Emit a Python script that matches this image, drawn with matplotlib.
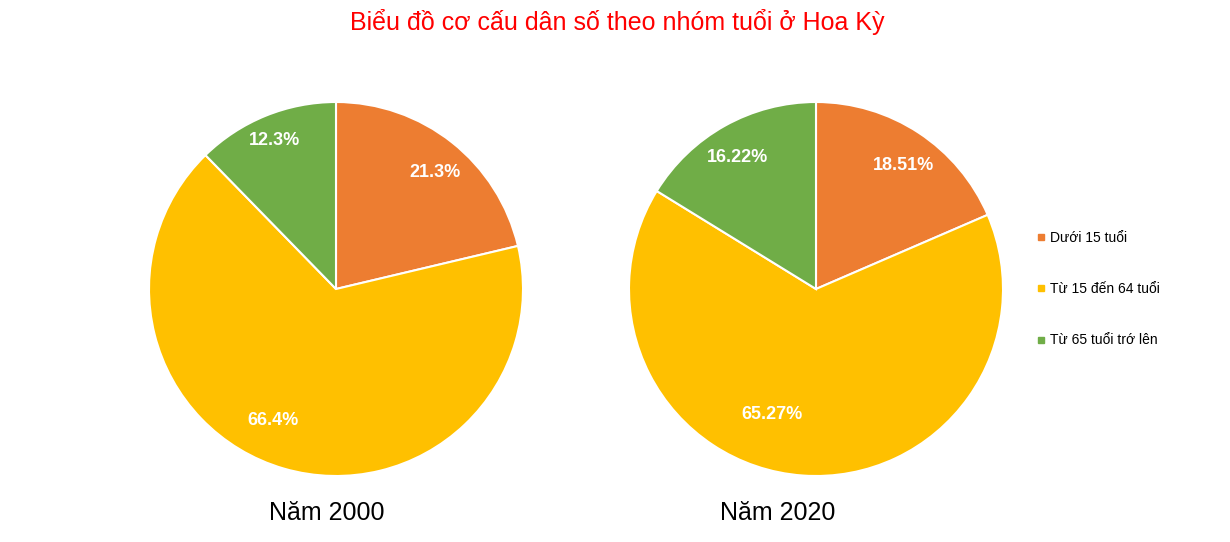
import numpy as np
import matplotlib
matplotlib.use('Agg')
import matplotlib.pyplot as plt
from matplotlib.lines import Line2D

plt.rcParams['font.family'] = ['Liberation Sans', 'DejaVu Sans']

groups = ['Dưới 15 tuổi', 'Từ 15 đến 64 tuổi', 'Từ 65 tuổi trớ lên']
colors = ['#ED7D31', '#FFC000', '#70AD47']
years = ['Năm 2000', 'Năm 2020']
share_2000 = [21.3, 66.4, 12.3]
share_2020 = [18.51, 65.27, 16.22]
fmts = ['%.1f%%', '%.2f%%']

# label placement tweaks (angle offset in degrees, radius fraction), like Excel's best fit
label_tweaks = [
    [(-2, 0.82), (-9.5, 0.78), (0.3, 0.86)],
    [(-2, 0.81), (-15.3, 0.71), (1.7, 0.82)],
]

W, H = 1230, 542
fig = plt.figure(figsize=(W / 100, H / 100), dpi=100)

R = 187
centers = [(336, 289), (816, 289)]
name_x = [327, 778]
for (cx, cy), vals, name, fmt, tw, nx in zip(centers, [share_2000, share_2020], years,
                                             fmts, label_tweaks, name_x):
    ax = fig.add_axes([(cx - R) / W, (H - cy - R) / H, 2 * R / W, 2 * R / H])
    wedges, texts, autotexts = ax.pie(vals, colors=colors, startangle=90, counterclock=False,
                                      autopct=fmt, pctdistance=0.82,
                                      wedgeprops=dict(edgecolor='white', linewidth=1.5))
    for w, t, (da, r) in zip(wedges, autotexts, tw):
        mid = np.deg2rad((w.theta1 + w.theta2) / 2 + da)
        t.set_position((r * np.cos(mid), r * np.sin(mid)))
        t.set_color('white')
        t.set_fontsize(13)
        t.set_fontweight('bold')
    ax.set_xlim(-1, 1)
    ax.set_ylim(-1, 1)
    ax.set_aspect('equal')
    fig.text(nx / W, 1 - 513 / H, name, ha='center', va='center', fontsize=18)

fig.text(617 / W, 1 - 22 / H, 'Biểu đồ cơ cấu dân số theo nhóm tuổi ở Hoa Kỳ',
         ha='center', va='center', fontsize=18, color='#FF0000')

handles = [Line2D([], [], marker='s', linestyle='', color=c, markersize=5) for c in colors]
fig.legend(handles, groups, loc='center left', bbox_to_anchor=(1022 / W, 1 - 289 / H),
           frameon=False, fontsize=10, labelspacing=2.7, handletextpad=0.1,
           handlelength=1.0)

fig.savefig('out.png', dpi=100)
